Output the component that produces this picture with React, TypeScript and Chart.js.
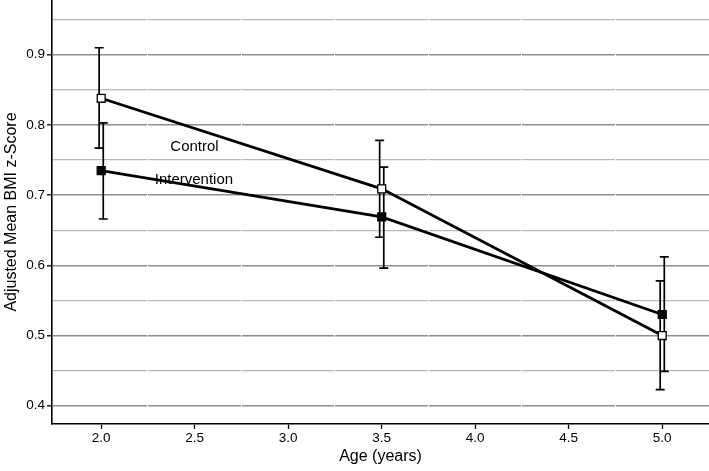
import React, { useEffect, useRef } from "react";
import { Chart, registerables } from "chart.js";

Chart.register(...registerables);

// ---- data ----
const AGES = [2.0, 3.5, 5.0];
const CONTROL_MEAN = [0.838, 0.709, 0.5];
const CONTROL_LOWER = [0.767, 0.64, 0.423];
const CONTROL_UPPER = [0.91, 0.778, 0.578];
const INTERVENTION_MEAN = [0.735, 0.669, 0.53];
const INTERVENTION_LOWER = [0.666, 0.596, 0.449];
const INTERVENTION_UPPER = [0.803, 0.74, 0.612];

const SERIES_NAMES = ["Control", "Intervention"];
const LABEL_X = [2.499, 2.496];
const LABEL_Y = [0.7687, 0.722];

const X_TICKS = [2.0, 2.25, 2.5, 2.75, 3.0, 3.25, 3.5, 3.75, 4.0, 4.25, 4.5, 4.75, 5.0, 5.25];
const Y_TICKS = [0.4, 0.45, 0.5, 0.55, 0.6, 0.65, 0.7, 0.75, 0.8, 0.85, 0.9, 0.95];

const X_MIN = 1.737;
const X_MAX = 5.25;
const Y_MIN = 0.374;
const Y_MAX = 0.978;

const DODGE = [-0.011, 0.011];
const CAP_HALF = 4.5;
const FONT = "'Liberation Sans', Arial, Helvetica, sans-serif";

const isMajor = (v: number, step: number) => {
  const r = v / step;
  return Math.abs(r - Math.round(r)) < 1e-6;
};

const zeroPadding = (scale: any) => {
  scale.paddingTop = 0;
  scale.paddingBottom = 0;
  scale.paddingLeft = 0;
  scale.paddingRight = 0;
};

const errorBarPlugin = {
  id: "errorBars",
  beforeDatasetsDraw(chart: any) {
    const { ctx, scales } = chart;
    const x = scales.x;
    const y = scales.y;
    const lows = [CONTROL_LOWER, INTERVENTION_LOWER];
    const highs = [CONTROL_UPPER, INTERVENTION_UPPER];
    ctx.save();
    ctx.strokeStyle = "#000";
    ctx.lineWidth = 1.7;
    for (let s = 0; s < 2; s++) {
      AGES.forEach((a, i) => {
        const px = x.getPixelForValue(a + DODGE[s]);
        const pt = y.getPixelForValue(highs[s][i]);
        const pb = y.getPixelForValue(lows[s][i]);
        ctx.beginPath();
        ctx.moveTo(px, pt);
        ctx.lineTo(px, pb);
        ctx.moveTo(px - CAP_HALF, pt);
        ctx.lineTo(px + CAP_HALF, pt);
        ctx.moveTo(px - CAP_HALF, pb);
        ctx.lineTo(px + CAP_HALF, pb);
        ctx.stroke();
      });
    }
    ctx.restore();
  },
};

const labelPlugin = {
  id: "seriesLabels",
  afterDatasetsDraw(chart: any) {
    const { ctx, scales } = chart;
    ctx.save();
    ctx.fillStyle = "#000";
    ctx.font = `15px ${FONT}`;
    ctx.textAlign = "center";
    ctx.textBaseline = "middle";
    SERIES_NAMES.forEach((n, i) => {
      ctx.fillText(n, scales.x.getPixelForValue(LABEL_X[i]), scales.y.getPixelForValue(LABEL_Y[i]));
    });
    ctx.restore();
  },
};

export default function App() {
  const ref = useRef<HTMLCanvasElement | null>(null);

  useEffect(() => {
    if (!ref.current) return;
    Chart.defaults.font.family = FONT;
    const chart = new Chart(ref.current, {
      type: "line",
      data: {
        datasets: [
          {
            label: SERIES_NAMES[0],
            data: AGES.map((a, i) => ({ x: a, y: CONTROL_MEAN[i] })),
            borderColor: "#000",
            borderWidth: 2.8,
            pointStyle: "rect",
            pointRadius: 5.6,
            pointBorderWidth: 1.3,
            pointBorderColor: "#000",
            pointBackgroundColor: "#fff",
          },
          {
            label: SERIES_NAMES[1],
            data: AGES.map((a, i) => ({ x: a, y: INTERVENTION_MEAN[i] })),
            borderColor: "#000",
            borderWidth: 2.8,
            pointStyle: "rect",
            pointRadius: 5.6,
            pointBorderWidth: 1.3,
            pointBorderColor: "#000",
            pointBackgroundColor: "#000",
          },
        ],
      },
      options: {
        animation: false,
        responsive: false,
        events: [],
        layout: { padding: 0, autoPadding: false },
        plugins: {
          legend: { display: false },
          tooltip: { enabled: false },
        },
        scales: {
          y: {
            type: "linear",
            min: Y_MIN,
            max: Y_MAX,
            afterBuildTicks: (scale: any) => {
              scale.ticks = Y_TICKS.map((v) => ({ value: v }));
            },
            afterFit: (scale: any) => {
              scale.width = 52;
              zeroPadding(scale);
            },
            ticks: {
              autoSkip: false,
              padding: 2,
              color: "#000",
              font: { size: 13.5, family: FONT },
              callback: (v: any) => (isMajor(Number(v), 0.1) ? Number(v).toFixed(1) : ""),
            },
            grid: {
              z: -2,
              drawOnChartArea: true,
              drawTicks: true,
              tickLength: 5,
              color: (c: any) => (isMajor(c.tick.value, 0.1) ? "#8e8e8e" : "#b8b8b8"),
              lineWidth: (c: any) => (isMajor(c.tick.value, 0.1) ? 1.6 : 1.2),
              tickColor: (c: any) => (isMajor(c.tick.value, 0.1) ? "#000" : "rgba(0,0,0,0)"),
              tickWidth: 1.3,
            },
            border: { display: true, color: "#000", width: 1.6 },
            title: {
              display: true,
              text: "Adjusted Mean BMI z-Score",
              color: "#000",
              font: { size: 16, family: FONT },
              padding: { top: 1.5, bottom: 0 },
            },
          },
          x: {
            type: "linear",
            min: X_MIN,
            max: X_MAX,
            afterBuildTicks: (scale: any) => {
              scale.ticks = X_TICKS.map((v) => ({ value: v }));
            },
            afterFit: (scale: any) => {
              scale.height = 47;
              zeroPadding(scale);
            },
            ticks: {
              autoSkip: false,
              maxRotation: 0,
              padding: 1,
              color: "#000",
              font: { size: 13.5, family: FONT },
              callback: (v: any) => (isMajor(Number(v), 0.5) ? Number(v).toFixed(1) : ""),
            },
            grid: {
              z: -1,
              drawOnChartArea: true,
              drawTicks: true,
              tickLength: 5,
              color: (c: any) => (isMajor(c.tick.value, 0.5) ? "rgba(0,0,0,0)" : "#ffffff"),
              lineWidth: 1,
              tickColor: (c: any) => (isMajor(c.tick.value, 0.5) ? "#000" : "rgba(0,0,0,0)"),
              tickWidth: 1.3,
            },
            border: { display: true, color: "#000", width: 1.6 },
            title: {
              display: true,
              text: "Age (years)",
              color: "#000",
              font: { size: 16, family: FONT },
              padding: { top: 0, bottom: 4.4 },
            },
          },
        },
      },
      plugins: [errorBarPlugin, labelPlugin],
    } as any);
    return () => chart.destroy();
  }, []);

  return (
    <div style={{ position: "absolute", left: 0, top: 0, width: 709, height: 471, background: "#fff" }}>
      <canvas ref={ref} width={709} height={471} style={{ width: 709, height: 471, display: "block" }} />
    </div>
  );
}
